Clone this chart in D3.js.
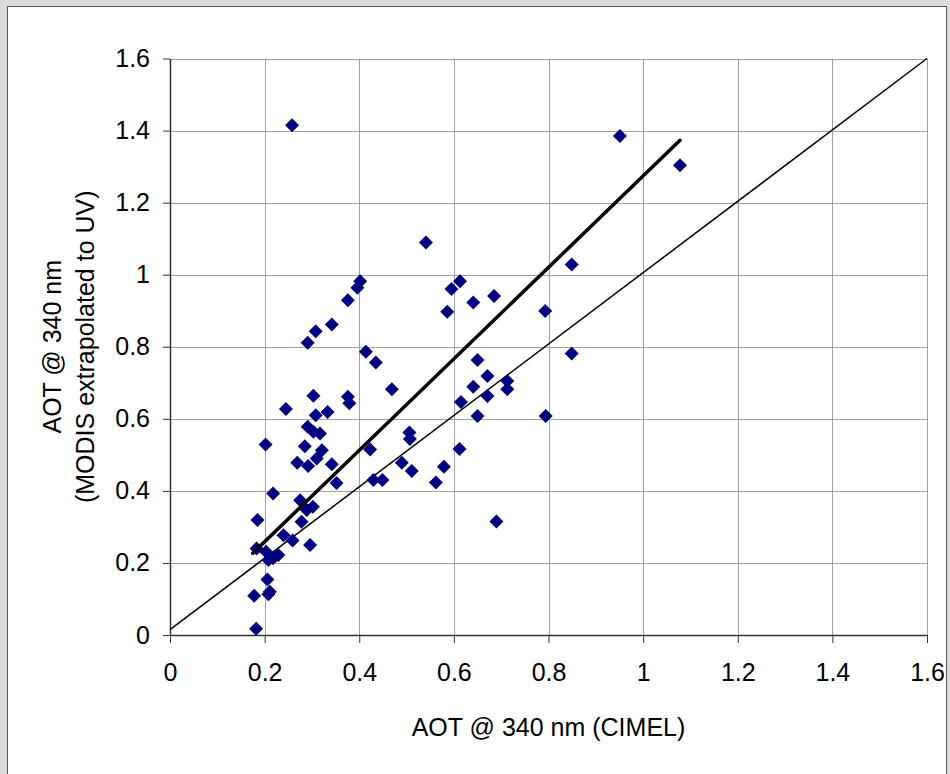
<!DOCTYPE html>
<html>
<head>
<meta charset="utf-8">
<script src="https://cdn.jsdelivr.net/npm/d3@7"></script>
<style>
	html, body { margin: 0; padding: 0; background: #dcdcdc; }
	svg { display: block; }
	text { font-family: "Liberation Sans", Arial, sans-serif; fill: #000; }
</style>
</head>
<body>
<script>
// AOT @ 340 nm : CIMEL (x) against MODIS extrapolated to UV (y)
var cimel = [
	0.258, 0.396, 0.402, 0.376, 0.342, 0.308, 0.291, 0.303, 0.376, 0.379,
	0.245, 0.308, 0.333, 0.291, 0.303, 0.317, 0.202, 0.285, 0.321, 0.310,
	0.269, 0.292, 0.342, 0.352, 0.218, 0.275, 0.289, 0.302, 0.278, 0.185,
	0.240, 0.259, 0.296, 0.183, 0.203, 0.218, 0.229, 0.208, 0.206, 0.211,
	0.208, 0.178, 0.182, 0.541, 0.613, 0.595, 0.586, 0.641, 0.685, 0.793,
	0.414, 0.435, 0.650, 0.671, 0.469, 0.641, 0.713, 0.713, 0.671, 0.615,
	0.650, 0.794, 0.506, 0.507, 0.423, 0.612, 0.490, 0.511, 0.579, 0.430,
	0.449, 0.562, 0.849, 0.849, 0.951, 1.078, 0.690
];
var modis = [
	1.415, 0.964, 0.982, 0.929, 0.862, 0.843, 0.811, 0.664, 0.661, 0.643,
	0.627, 0.610, 0.619, 0.578, 0.564, 0.559, 0.529, 0.524, 0.513, 0.490,
	0.478, 0.469, 0.474, 0.422, 0.393, 0.374, 0.347, 0.356, 0.314, 0.319,
	0.277, 0.262, 0.250, 0.240, 0.231, 0.213, 0.222, 0.208, 0.154, 0.120,
	0.113, 0.109, 0.017, 1.089, 0.982, 0.960, 0.897, 0.923, 0.941, 0.899,
	0.786, 0.756, 0.763, 0.719, 0.682, 0.689, 0.705, 0.682, 0.663, 0.647,
	0.608, 0.608, 0.562, 0.544, 0.515, 0.516, 0.478, 0.455, 0.467, 0.430,
	0.430, 0.423, 1.028, 0.781, 1.385, 1.304, 0.315
];

// regression line (thick) and reference line (thin), as end points
var fitX = [0.175, 1.078];
var fitY = [0.227, 1.373];
var refX = [0, 1.6];
var refY = [0.015, 1.6];

var tickValues = [0, 0.2, 0.4, 0.6, 0.8, 1, 1.2, 1.4, 1.6];
var tickLabels = ["0", "0.2", "0.4", "0.6", "0.8", "1", "1.2", "1.4", "1.6"];

var W = 950, H = 774;
// plot box (note: "top" is taken by window.top, so prefix these)
var pLeft = 170, pRight = 927, pTop = 58.5, pBottom = 635;

var svg = d3.select("body").append("svg")
	.attr("width", W)
	.attr("height", H);

// white panel with dark frame
svg.append("rect")
	.attr("x", 7.5).attr("y", 6.5)
	.attr("width", 939).attr("height", H + 10)
	.attr("fill", "#fff")
	.attr("stroke", "#555")
	.attr("stroke-width", 1);

var x = d3.scaleLinear().domain([0, 1.6]).range([pLeft, pRight]);
var y = d3.scaleLinear().domain([0, 1.6]).range([pBottom, pTop]);

// grid
var grid = svg.append("g").attr("class", "grid");
grid.selectAll("line.h")
	.data(tickValues.slice(1))
	.enter().append("line")
	.attr("class", "h")
	.attr("x1", pLeft).attr("x2", pRight)
	.attr("y1", function(d) { return Math.round(y(d)) + 0.5; })
	.attr("y2", function(d) { return Math.round(y(d)) + 0.5; })
	.attr("stroke", "#a3a3a3");
grid.selectAll("line.v")
	.data(tickValues.slice(1))
	.enter().append("line")
	.attr("class", "v")
	.attr("y1", pTop).attr("y2", pBottom)
	.attr("x1", function(d) { return Math.round(x(d)) + 0.5; })
	.attr("x2", function(d) { return Math.round(x(d)) + 0.5; })
	.attr("stroke", "#a3a3a3");

// axes
var fmt = function(d, i) { return tickLabels[i]; };

var xAxis = svg.append("g")
	.attr("transform", "translate(0," + pBottom + ")")
	.call(d3.axisBottom(x).tickValues(tickValues).tickFormat(fmt)
		.tickSize(8).tickPadding(25).tickSizeOuter(0));

var yAxis = svg.append("g")
	.attr("transform", "translate(" + pLeft + ",0)")
	.call(d3.axisLeft(y).tickValues(tickValues).tickFormat(fmt)
		.tickSize(7).tickPadding(13).tickSizeOuter(0));

[xAxis, yAxis].forEach(function(a) {
	a.select(".domain").attr("stroke", "#333").attr("stroke-width", 1.5);
	a.selectAll(".tick line").attr("stroke", "#333");
	a.selectAll(".tick text")
		.style("font-family", "'Liberation Sans', Arial, sans-serif")
		.style("font-size", "25px")
		.attr("fill", "#000");
});
xAxis.selectAll(".tick text").attr("dy", "0.52em");

// reference line
var line = d3.line()
	.x(function(d) { return x(d[0]); })
	.y(function(d) { return y(d[1]); });

svg.append("path")
	.datum(d3.zip(refX, refY))
	.attr("d", line)
	.attr("fill", "none")
	.attr("stroke", "#000")
	.attr("stroke-width", 1.5);

// points
var diamond = d3.symbol().type(d3.symbolSquare).size(98);
svg.append("g")
	.selectAll("path")
	.data(d3.zip(cimel, modis))
	.enter().append("path")
	.attr("d", diamond)
	.attr("transform", function(d) {
		return "translate(" + x(d[0]) + "," + y(d[1]) + ") rotate(45)";
	})
	.attr("fill", "#000080");

// fitted line on top
svg.append("path")
	.datum(d3.zip(fitX, fitY))
	.attr("d", line)
	.attr("fill", "none")
	.attr("stroke", "#000")
	.attr("stroke-width", 3.5)
	.attr("stroke-linecap", "round");

// axis titles
svg.append("text")
	.attr("x", (pLeft + pRight) / 2)
	.attr("y", 736)
	.attr("text-anchor", "middle")
	.style("font-size", "25px")
	.text("AOT @ 340 nm (CIMEL)");

var yTitle = svg.append("text")
	.attr("transform", "translate(0," + ((pTop + pBottom) / 2) + ") rotate(-90)")
	.attr("text-anchor", "middle")
	.style("font-size", "25px");
yTitle.append("tspan").attr("x", 0).attr("y", 61).text("AOT @ 340 nm");
yTitle.append("tspan").attr("x", 0).attr("y", 94).text("(MODIS extrapolated to UV)");
</script>
</body>
</html>
